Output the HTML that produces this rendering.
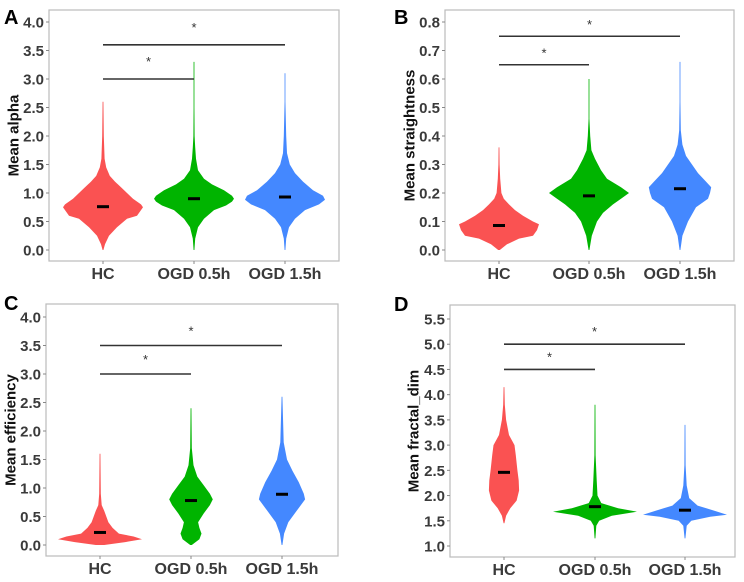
<!DOCTYPE html>
<html><head><meta charset="utf-8">
<style>
body{margin:0;background:#fff;width:744px;height:577px;overflow:hidden;font-family:"Liberation Sans",Arial,sans-serif}
svg text{font-family:"Liberation Sans",Arial,sans-serif}
</style></head>
<body>
<svg id="fig" width="744" height="577" viewBox="0 0 744 577" xmlns="http://www.w3.org/2000/svg"></svg>
<script>
// ---- data ----
const categories = ["HC","OGD 0.5h","OGD 1.5h"];
const colors = ["#FA5252","#00B400","#4488FF"];

const aTicks = ["0.0","0.5","1.0","1.5","2.0","2.5","3.0","3.5","4.0"];
const aMedians = [0.76, 0.90, 0.93];
const aLevels = [[0,0.1,0.25,0.4,0.55,0.6,0.7,0.75,0.8,0.9,1.0,1.1,1.2,1.3,1.45,1.6,2.0,2.6],
                 [0,0.2,0.4,0.55,0.7,0.78,0.85,0.9,0.95,1.05,1.15,1.25,1.4,1.6,1.8,2.0,2.5,3.3],
                 [0,0.2,0.4,0.55,0.7,0.8,0.88,0.95,1.05,1.2,1.35,1.5,1.7,2.0,2.6,3.1]];
const aWidths = [[0,0.05,0.15,0.35,0.6,0.85,0.95,1.0,0.95,0.75,0.6,0.45,0.3,0.17,0.08,0.04,0.02,0.005],
                 [0.005,0.03,0.1,0.25,0.5,0.8,0.95,1.0,0.95,0.75,0.45,0.25,0.1,0.05,0.03,0.015,0.008,0],
                 [0.005,0.03,0.1,0.25,0.5,0.85,1.0,0.95,0.7,0.45,0.25,0.12,0.05,0.03,0.01,0]];

const bTicks = ["0.0","0.1","0.2","0.3","0.4","0.5","0.6","0.7","0.8"];
const bMedians = [0.086, 0.19, 0.215];
const bLevels = [[0,0.02,0.04,0.05,0.07,0.09,0.1,0.12,0.14,0.16,0.18,0.2,0.25,0.3,0.36],
                 [0,0.05,0.1,0.13,0.16,0.18,0.2,0.22,0.25,0.28,0.32,0.35,0.4,0.46,0.6],
                 [0,0.05,0.1,0.15,0.18,0.2,0.22,0.24,0.27,0.3,0.33,0.37,0.42,0.52,0.66]];
const bWidths = [[0.02,0.2,0.5,0.85,0.95,1.0,0.85,0.6,0.4,0.25,0.12,0.06,0.03,0.015,0],
                 [0.005,0.07,0.2,0.35,0.6,0.8,1.0,0.8,0.45,0.3,0.15,0.06,0.03,0.01,0],
                 [0.005,0.06,0.2,0.4,0.7,0.75,0.78,0.65,0.45,0.3,0.15,0.06,0.02,0.01,0]];

const cTicks = ["0.0","0.5","1.0","1.5","2.0","2.5","3.0","3.5","4.0"];
const cMedians = [0.22, 0.78, 0.89];
const cLevels = [[0,0.05,0.1,0.15,0.2,0.3,0.4,0.5,0.6,0.7,0.9,1.6],
                 [0,0.1,0.2,0.3,0.4,0.55,0.7,0.8,0.9,1.05,1.2,1.4,1.7,2.4],
                 [0,0.2,0.4,0.6,0.8,0.9,1.1,1.3,1.5,1.8,2.6]];
const cWidths = [[0.1,0.6,1.0,0.8,0.45,0.3,0.2,0.15,0.1,0.04,0.02,0],
                 [0.02,0.2,0.25,0.2,0.17,0.3,0.45,0.52,0.45,0.3,0.15,0.06,0.02,0],
                 [0,0.05,0.15,0.35,0.55,0.52,0.4,0.25,0.12,0.04,0]];

const dTicks = ["1.0","1.5","2.0","2.5","3.0","3.5","4.0","4.5","5.0","5.5"];
const dMedians = [2.46, 1.78, 1.71];
const dLevels = [[1.45,1.6,1.75,1.9,2.1,2.3,2.5,2.8,3.0,3.2,3.5,3.8,4.15],
                 [1.15,1.4,1.5,1.6,1.68,1.75,1.85,2.0,2.3,2.8,3.8],
                 [1.15,1.4,1.5,1.58,1.62,1.7,1.8,1.95,2.2,2.6,3.4]];
const dWidths = [[0,0.05,0.15,0.3,0.36,0.35,0.32,0.28,0.25,0.12,0.05,0.02,0],
                 [0,0.03,0.1,0.4,1.0,0.55,0.15,0.06,0.04,0.015,0],
                 [0,0.04,0.15,0.6,1.0,0.7,0.3,0.1,0.04,0.015,0]];

// ---- layout ----
const panels = [
 {id:"a",letter:"A",title:"Mean alpha",box:[49,10,339,261],y0:250,y1:22,min:0,max:4,ticks:aTicks,cx:[103,194,285],hw:40,
  med:aMedians,lev:aLevels,wid:aWidths,sig:[[0,1,3.0,3.35],[0,2,3.6,3.95]],lx:4,ly:24,tx:14},
 {id:"b",letter:"B",title:"Mean straightness",box:[445,10,734,261],y0:250,y1:22,min:0,max:0.8,ticks:bTicks,cx:[499,589,680],hw:40,
  med:bMedians,lev:bLevels,wid:bWidths,sig:[[0,1,0.65,0.70],[0,2,0.75,0.80]],lx:394,ly:24,tx:410},
 {id:"c",letter:"C",title:"Mean efficiency",box:[46,304,338,556],y0:545,y1:317,min:0,max:4,ticks:cTicks,cx:[100,191,282],hw:42,
  med:cMedians,lev:cLevels,wid:cWidths,sig:[[0,1,3.0,3.3],[0,2,3.5,3.8]],lx:4,ly:310,tx:11},
 {id:"d",letter:"D",title:"Mean fractal_dim",box:[450,305,735,557],y0:546,y1:319,min:1,max:5.5,ticks:dTicks,cx:[504,595,685],hw:42,
  med:dMedians,lev:dLevels,wid:dWidths,sig:[[0,1,4.5,4.8],[0,2,5.0,5.3]],lx:394,ly:311,tx:414}
];
const NS="http://www.w3.org/2000/svg";
const svg=document.getElementById("fig");
function mk(tag,attrs,parent){const e=document.createElementNS(NS,tag);for(const k in attrs)e.setAttribute(k,attrs[k]);(parent||svg).appendChild(e);return e;}

panels.forEach(p=>{
  const g=mk("g",{});
  
  
  const ys=v=>p.y0+(v-p.min)/(p.max-p.min)*(p.y1-p.y0);
  const [x0,y0,x1,y1]=p.box;
  const box=mk("rect",{x:x0,y:y0,width:x1-x0,height:y1-y0,fill:"#fff",stroke:"#bbb","stroke-width":1.2},g);
  
  
  p.ticks.forEach(t=>{
    const y=ys(parseFloat(t));
    mk("line",{x1:x0-3,x2:x0,y1:y,y2:y,stroke:"#888","stroke-width":1},g);
    const tx=mk("text",{x:x0-5,y:y+5.5,"text-anchor":"end","font-size":15,"font-weight":"bold",fill:"#3a3a3a"},g);
    tx.textContent=t;
    
    
  });
  categories.forEach((c,i)=>{
    const cx=p.cx[i],lev=p.lev[i],wid=p.wid[i];
    let right=[],left=[];
    for(let k=0;k<lev.length;k++){const w=Math.max(wid[k]*p.hw,0.4);right.push([cx+w,ys(lev[k])]);left.push([cx-w,ys(lev[k])]);}
    const pts=right.concat(left.reverse()).map(q=>q[0].toFixed(1)+","+q[1].toFixed(1)).join(" ");
    const v=mk("polygon",{points:pts,fill:colors[i],stroke:"none"},g);
    
    
    const m=mk("line",{x1:cx-6,x2:cx+6,y1:ys(p.med[i]),y2:ys(p.med[i]),stroke:"#000","stroke-width":3},g);
    
    
    mk("line",{x1:cx,x2:cx,y1:y1,y2:y1+3,stroke:"#888","stroke-width":1},g);
    const xl=mk("text",{x:cx,y:y1+18,"text-anchor":"middle","font-size":16,"font-weight":"bold",fill:"#3a3a3a"},g);
    xl.textContent=c;
    
    
  });
  p.sig.forEach(s=>{
    const y=ys(s[2]);
    const l=mk("line",{x1:p.cx[s[0]],x2:p.cx[s[1]],y1:y,y2:y,stroke:"#333","stroke-width":1.6},g);
    
    
    const st=mk("text",{x:(p.cx[s[0]]+p.cx[s[1]])/2,y:ys(s[3])+7,"text-anchor":"middle","font-size":13,fill:"#333"},g);
    st.textContent="*";
    
    
  });
  const cy=(y0+y1)/2;
  const at=mk("text",{x:p.tx,y:cy,"text-anchor":"middle","dominant-baseline":"central","font-size":15,"font-weight":"bold",fill:"#111",transform:"rotate(-90 "+p.tx+" "+cy+")"},g);
  at.textContent=p.title;
  
  
  const lt=mk("text",{x:p.lx,y:p.ly,"font-size":20,"font-weight":"bold",fill:"#000"},g);
  lt.textContent=p.letter;
  
  
});
</script>
</body></html>
